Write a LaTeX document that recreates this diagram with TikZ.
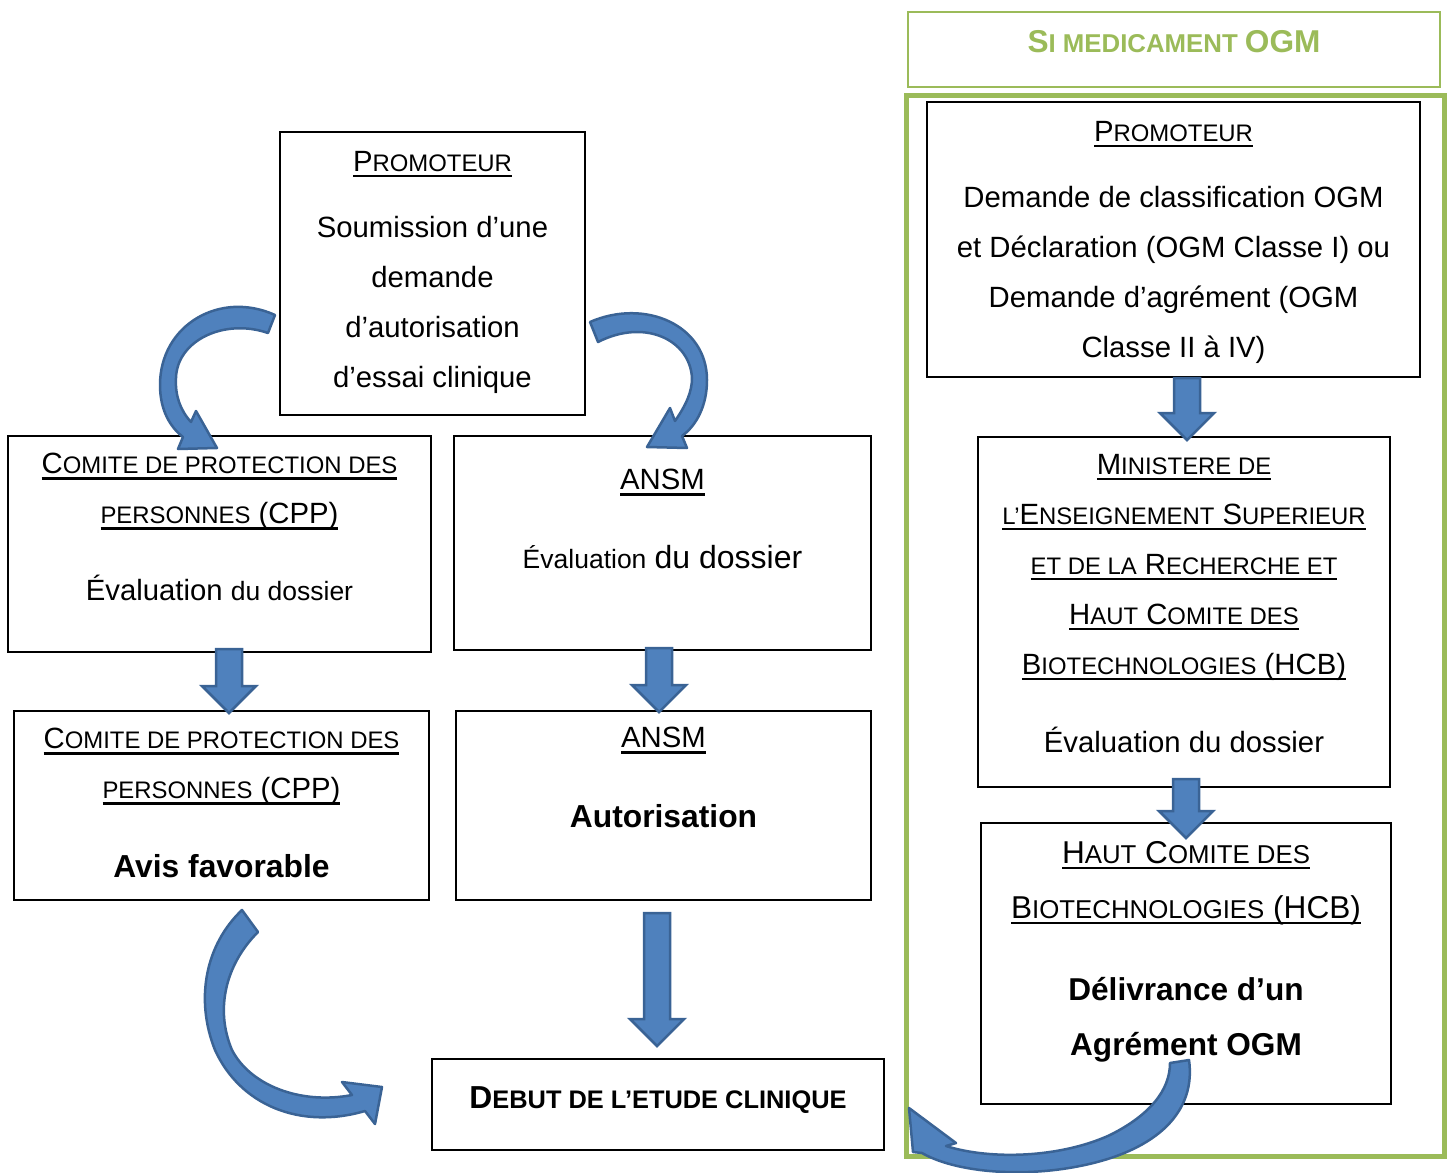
\documentclass[tikz,border=0pt]{standalone}
\usepackage{fontspec}
\setmainfont{Liberation Sans}
\usepackage{tikz}
\usetikzlibrary{calc}
\usetikzlibrary{positioning}

\definecolor{arrowfill}{HTML}{4F81BD}
\definecolor{arrowedge}{HTML}{3A6395}
\definecolor{ogmgreen}{HTML}{9BBB59}

% petites capitales "a la Word"
\newcommand\sm[2][23.9]{{\fontsize{#1}{50}\selectfont #2}}
\newcommand\souligne[1]{\leavevmode\setbox0\hbox{#1}\rlap{\rule[-6pt]{\wd0}{2.6pt}}\box0}

% fleche bloc verticale : x et haut du fut de #1, pointe a la hauteur de #2
\newcommand\blockdown[2]{%
\draw[blockarr] let \p1=(#1), \p2=(#2) in
  (\x1-13pt,\y1) -- (\x1+13pt,\y1) -- (\x1+13pt,\y2+27pt) -- (\x1+27pt,\y2+27pt)
  -- (\x1,\y2) -- (\x1-27pt,\y2+27pt) -- (\x1-13pt,\y2+27pt) -- cycle;}

\tikzset{
box/.style={draw, line width=1.2pt, inner sep=0pt, outer sep=0pt},
txt/.style={font=\fontsize{29.3}{50}\selectfont, align=center, inner sep=0pt},
blockarr/.style={fill=arrowfill, draw=arrowedge, line width=2.5pt},
curvearr/.style={fill=arrowfill, draw=arrowedge, line width=2.5pt, line join=round},
}

\begin{document}
\begin{tikzpicture}[x=1pt, y=-1pt]
\useasboundingbox (0,0) rectangle (1450,1172);

% cadre OGM
\node[box, draw=ogmgreen, line width=5pt, minimum width=538pt, minimum height=1061pt] (ogmframe) at (1175,625.5) {};
\node[box, draw=ogmgreen, line width=1.5pt, minimum width=532pt, minimum height=75pt] (ogmtitle) at (1174,49.5) {};
\node[txt, below=18pt of ogmtitle.north, text=ogmgreen, font=\bfseries\fontsize{31.6}{50}\selectfont] (ogmtitle-t)
  {S\sm[25.8]{I MEDICAMENT }OGM};

% boites
\node[box, minimum width=305pt, minimum height=283pt] (promo) at (432.5,273.5) {};
\node[box, minimum width=423pt, minimum height=216pt] (cpp1) at (219.5,544) {};
\node[box, minimum width=417pt, minimum height=214pt] (ansm1) at (662.5,543) {};
\node[box, minimum width=415pt, minimum height=189pt] (cpp2) at (221.5,805.5) {};
\node[box, minimum width=415pt, minimum height=189pt] (ansm2) at (663.5,805.5) {};
\node[box, minimum width=452pt, minimum height=91pt] (debut) at (658,1104.5) {};
\node[box, minimum width=493pt, minimum height=275pt] (promoogm) at (1173.5,239.5) {};
\node[box, minimum width=412pt, minimum height=350pt] (minist) at (1184,612) {};
\node[box, minimum width=410pt, minimum height=281pt] (hcb) at (1186,963.5) {};

% textes
\node[txt, below=19pt of promo.north] (promo-t)
  {\souligne{P\sm{ROMOTEUR}}\\[16pt] Soumission d’une\\ demande\\ d’autorisation\\ d’essai clinique};
\node[txt, below=17pt of cpp1.north] (cpp1-t)
  {\souligne{C\sm{OMITE DE PROTECTION DES}}\\ \souligne{\sm{PERSONNES} (CPP)}\\[27pt]
   Évaluation {\fontsize{26.5}{50}\selectfont du dossier}};
\node[txt, below=33pt of ansm1.north] (ansm1-t)
  {\souligne{ANSM}\\[29pt] {\fontsize{26.5}{50}\selectfont Évaluation} {\fontsize{32}{50}\selectfont du dossier}};
\node[txt, below=17pt of cpp2.north] (cpp2-t)
  {\souligne{C\sm{OMITE DE PROTECTION DES}}\\ \souligne{\sm{PERSONNES} (CPP)}\\[29pt]
   {\bfseries\fontsize{31.8}{50}\selectfont Avis favorable}};
\node[txt, below=16pt of ansm2.north] (ansm2-t)
  {\souligne{ANSM}\\[30pt] {\bfseries\fontsize{31.8}{50}\selectfont Autorisation}};
\node[txt, below=27pt of debut.north, font=\bfseries\fontsize{31.8}{50}\selectfont] (debut-t)
  {D\sm[25.4]{EBUT DE L’ETUDE CLINIQUE}};
\node[txt, below=19pt of promoogm.north] (promoogm-t)
  {\souligne{P\sm{ROMOTEUR}}\\[16pt] Demande de classification OGM\\ et Déclaration (OGM Classe I) ou\\
   Demande d’agrément (OGM\\ Classe II à IV)};
\node[txt, below=17pt of minist.north] (minist-t)
  {\souligne{M\sm{INISTERE DE}}\\ \souligne{\sm{L’}E\sm{NSEIGNEMENT} S\sm{UPERIEUR}}\\
   \souligne{\sm{ET DE LA} R\sm{ECHERCHE ET}}\\ \souligne{H\sm{AUT} C\sm{OMITE DES}}\\
   \souligne{B\sm{IOTECHNOLOGIES} (HCB)}\\[28pt] Évaluation du dossier};
\node[txt, below=18pt of hcb.north, font=\fontsize{31.6}{55}\selectfont] (hcb-t)
  {\souligne{H\sm[25.8]{AUT} C\sm[25.8]{OMITE DES}}\\ \souligne{B\sm[25.8]{IOTECHNOLOGIES} (HCB)}\\[27pt]
   {\bfseries Délivrance d’un}\\ {\bfseries Agrément OGM}};

% fleches droites
\blockdown{$(cpp1.south)+(9.5,-3)$}{$(cpp2.north)+(0,2)$}
\blockdown{$(ansm1.south)+(-3.5,-2)$}{$(ansm2.north)+(0,1)$}
\blockdown{$(ansm2.south)+(-6.5,13)$}{$(debut.north)+(0,-13)$}
\blockdown{$(promoogm.south)+(13.5,1)$}{$(minist.north)+(0,3)$}
\blockdown{$(minist.south)+(2,-8)$}{$(hcb.north)+(0,15)$}

% fleches courbes
\draw[curvearr] (275,315) .. controls (220,290) and (160,325) .. (160,385)
  .. controls (160,410) and (170,427) .. (183,437) -- (178,449) -- (217,448) -- (196,411) -- (191,422)
  .. controls (180,410) and (175,395) .. (176,378) .. controls (177,340) and (225,318) .. (268,333) -- cycle;
\draw[curvearr] (590,322) .. controls (645,298) and (707,325) .. (707,380)
  .. controls (707,405) and (697,425) .. (682,436) -- (687,448) -- (647,447) -- (670,408) -- (675,421)
  .. controls (686,405) and (692,392) .. (692,378) .. controls (690,340) and (645,318) .. (598,342) -- cycle;
\draw[curvearr] (242,910) .. controls (205,945) and (195,1000) .. (215,1050)
  .. controls (240,1105) and (300,1130) .. (365,1111) -- (375,1124) -- (382,1087) -- (342,1082) -- (352,1095)
  .. controls (300,1105) and (250,1085) .. (232,1050) .. controls (215,1010) and (225,965) .. (258,932) -- cycle;
\draw[curvearr] (1170,1063) -- (1189,1060) .. controls (1196,1110) and (1160,1150) .. (1080,1166)
  .. controls (1020,1178) and (955,1172) .. (922,1153) -- (913,1152) -- (909,1108) -- (956,1143) -- (946,1146)
  .. controls (990,1160) and (1060,1158) .. (1110,1135) .. controls (1150,1115) and (1170,1090) .. (1170,1063) -- cycle;

\end{tikzpicture}
\end{document}
